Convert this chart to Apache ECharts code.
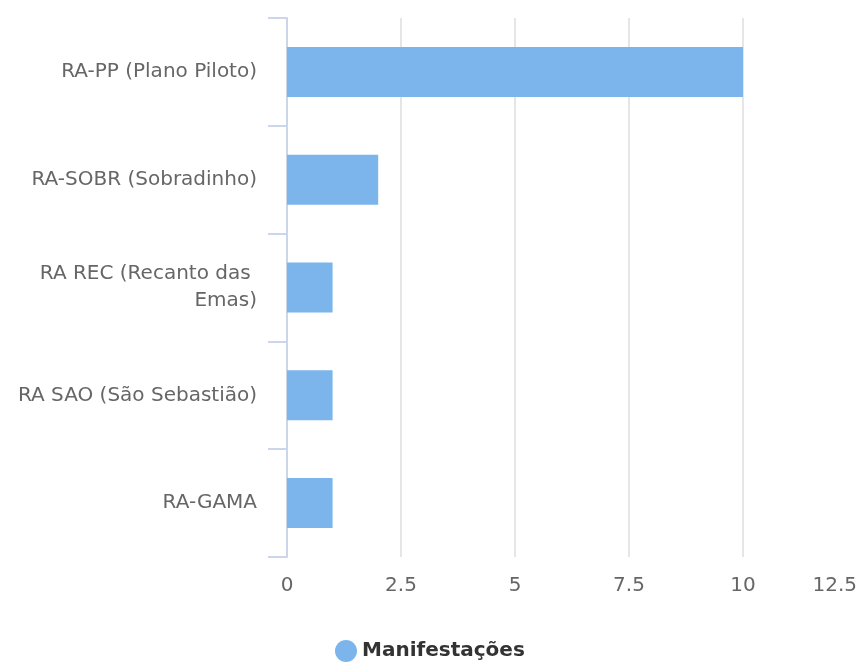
<!DOCTYPE html>
<html>
<head>
<meta charset="utf-8">
<script src="https://cdn.jsdelivr.net/npm/echarts@6/dist/echarts.min.js"></script>
<style>
  html, body { margin: 0; padding: 0; background: #fff; }
  #chart { width: 856px; height: 664px; }
</style>
</head>
<body>
<div id="chart"></div>
<script>
var categories = ['RA-PP (Plano Piloto)', 'RA-SOBR (Sobradinho)', 'RA REC (Recanto das Emas)', 'RA SAO (São Sebastião)', 'RA-GAMA'];
var manifestacoes = [10, 2, 1, 1, 1];
var xTicks = [0, 2.5, 5, 7.5, 10, 12.5];

var FONT = '"DejaVu Sans", Verdana, sans-serif';

var myChart = echarts.init(document.getElementById('chart'));
var option = {
  animation: false,
  color: ['#7cb5ec'],
  legend: {
    data: ['Manifestações'],
    left: 330,
    top: 635,
    icon: 'circle',
    itemWidth: 22,
    itemHeight: 22,
    textStyle: { fontSize: 20, color: '#333', fontFamily: FONT, fontWeight: 'bold' }
  },
  grid: {
    left: 287,
    right: -1,
    top: 18,
    bottom: 107,
    outerBoundsMode: 'none'
  },
  xAxis: {
    type: 'value',
    min: xTicks[0],
    max: xTicks[xTicks.length - 1],
    interval: 2.5,
    axisLine: { show: false },
    axisTick: { show: false },
    splitLine: { show: true, lineStyle: { color: '#e6e6e6', width: 2 } },
    axisLabel: { fontSize: 20, color: '#666', margin: 19, fontFamily: FONT, alignMaxLabel: 'right' }
  },
  yAxis: {
    type: 'category',
    inverse: true,
    data: categories,
    axisLine: { show: true, lineStyle: { color: '#ccd6eb', width: 2 } },
    axisTick: { show: true, length: 19, lineStyle: { color: '#ccd6eb', width: 2 } },
    axisLabel: {
      fontSize: 20,
      color: '#666',
      margin: 30,
      width: 256,
      overflow: 'break',
      lineHeight: 27,
      fontFamily: FONT
    }
  },
  series: [
    {
      name: 'Manifestações',
      type: 'bar',
      barWidth: 50,
      data: manifestacoes
    }
  ]
};
myChart.setOption(option);
</script>
</body>
</html>
